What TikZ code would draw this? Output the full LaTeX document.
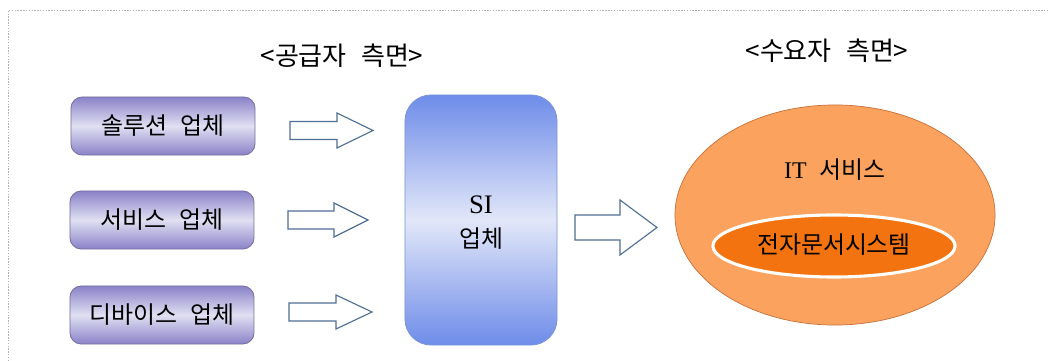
\documentclass[tikz,border=0pt]{standalone}
\usepackage{fontspec}
\setmainfont{Liberation Serif}
\newfontfamily\kr{Noto Sans CJK KR}
\usetikzlibrary{shapes.geometric}
\definecolor{purpEdge}{HTML}{77709E}
\definecolor{purpDark}{HTML}{8A82C8}
\definecolor{purpLight}{HTML}{E0E0F2}
\definecolor{blueDark}{HTML}{6E8CE9}
\definecolor{blueLight}{HTML}{E2E7F8}
\definecolor{blueEdge}{HTML}{7C94D8}
\definecolor{arrEdge}{HTML}{4F6F94}
\definecolor{orangeOut}{HTML}{FBA35E}
\definecolor{orangeEdge}{HTML}{C8703A}
\definecolor{orangeIn}{HTML}{F2730F}
\newcommand\wsp{\hspace{0.55em}}
\tikzset{
  x=0.025cm, y=-0.025cm,
  txt/.style={font=\fontsize{17}{20}\selectfont, text=black, inner sep=0pt},
  vendor/.style={txt, draw=purpEdge, line width=0.6pt, rounded corners=0.28cm,
    minimum width=4.6cm, minimum height=1.45cm,
    top color=purpDark, bottom color=purpDark, middle color=purpLight, shading=axis},
  sibox/.style={txt, draw=blueEdge, line width=0.6pt, rounded corners=0.65cm,
    minimum width=3.8cm, minimum height=6.25cm,
    top color=blueDark, bottom color=blueDark, middle color=blueLight, shading=axis},
  hollow/.style={draw=arrEdge, line width=0.8pt, fill=white, line join=miter},
  title/.style={txt, font=\fontsize{18.5}{21}\selectfont},
}
% #1 tail x, #2 head start x, #3 tip x, #4 center y, #5 shaft half, #6 head half
\newcommand\hollowarrow[6]{%
  \draw[hollow] (#1,#4-#5) -- (#2,#4-#5) -- (#2,#4-#6) -- (#3,#4) -- (#2,#4+#6)
    -- (#2,#4+#5) -- (#1,#4+#5) -- cycle;}
\begin{document}
\begin{tikzpicture}
\useasboundingbox (0,0) rectangle (1048,361);
% frame
\draw[gray!60, line width=0.7pt, dash pattern=on 1pt off 1pt] (8,361) -- (8,10.5) -- (1048,10.5);
% titles
\node[title] (t1) at (342,56) {\kr <공급자\wsp 측면>};
\node[title] (t2) at (827,51) {\kr <수요자\wsp 측면>};
% vendors
\node[vendor] (v1) at (163,126) {\kr 솔루션\wsp 업체};
\node[vendor] (v2) at (162,220) {\kr 서비스\wsp 업체};
\node[vendor] (v3) at (162,315) {\kr 디바이스\wsp 업체};
% SI
\node[sibox] (si) at (481,220) {};
\node[txt, font=\fontsize{19}{22}\selectfont] (silab) at (481,205) {SI};
\node[txt] (silab2) at (481,239) {\kr 업체};
% arrows
\hollowarrow{290}{337}{373}{130.5}{9}{17.5}
\hollowarrow{288}{334}{368}{220}{9}{17}
\hollowarrow{289}{336}{372}{312}{9}{17}
\hollowarrow{575}{620}{657}{227.5}{12.5}{27.5}
% demand side
\node[ellipse, draw=orangeEdge, line width=0.5pt, fill=orangeOut, minimum width=8cm, minimum height=5.5cm, inner sep=0pt] (it) at (835,215) {};
\node[txt] (itlab) at (835,170) {IT\wsp\kr 서비스};
\node[ellipse, draw=white, line width=2.2pt, fill=orangeIn, minimum width=6.05cm, minimum height=1.55cm, inner sep=0pt] (eds) at (834,246) {};
\node[txt] (edslab) at (834,245) {\kr 전자문서시스템};
\end{tikzpicture}
\end{document}
